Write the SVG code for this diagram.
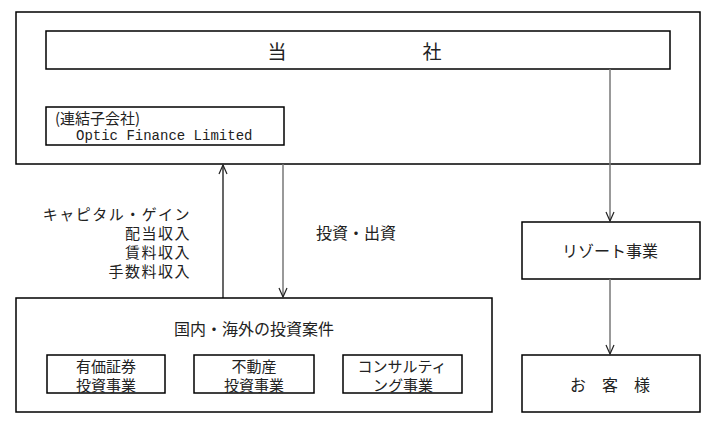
<svg xmlns="http://www.w3.org/2000/svg" width="715" height="427" viewBox="0 0 715 427">
<defs>
<style>
.box{fill:none;stroke:#000;stroke-width:1.5}
.ln{fill:none;stroke:#000;stroke-width:1.2}
.gl{fill:none;stroke:#777;stroke-width:1.5}
text{font-family:"Noto Sans CJK JP","Liberation Sans",sans-serif;font-size:16px;fill:#222;dominant-baseline:central}
.mono{font-family:"Liberation Mono","Noto Sans CJK JP",monospace;font-size:14px}
.big{font-size:19px}
.sm{font-size:15px}
.lbl{font-size:15px;letter-spacing:1.5px}
</style>
<marker id="ah" markerWidth="12" markerHeight="12" refX="10" refY="5" orient="auto" markerUnits="userSpaceOnUse" viewBox="0 0 12 10">
<path d="M1,1 L10,5 L1,9" fill="none" stroke="#222" stroke-width="1.2"/>
</marker>
</defs>
<rect width="715" height="427" fill="#fff"/>

<g id="group-company">
<rect class="box" x="16" y="12" width="684" height="152"/>
</g>
<g id="company">
<rect class="box" x="46" y="31" width="624" height="38"/>
<text class="big" x="277" y="50" text-anchor="middle">当</text>
<text class="big" x="432" y="50" text-anchor="middle">社</text>
</g>
<g id="subsidiary">
<rect class="box" x="46" y="107" width="238" height="38"/>
<text class="sm" x="55" y="117">(連結子会社)</text>
<text class="mono" x="76" y="136">Optic Finance Limited</text>
</g>
<g id="investments">
<rect class="box" x="16" y="298" width="476" height="114"/>
<text x="254" y="328" text-anchor="middle">国内・海外の投資案件</text>
</g>
<g id="securities">
<rect class="box" x="47" y="355" width="118" height="38"/>
<text class="sm" x="106" y="365" text-anchor="middle">有価証券</text>
<text class="sm" x="106" y="384" text-anchor="middle">投資事業</text>
</g>
<g id="realestate">
<rect class="box" x="194" y="355" width="120" height="38"/>
<text class="sm" x="254" y="365" text-anchor="middle">不動産</text>
<text class="sm" x="254" y="384" text-anchor="middle">投資事業</text>
</g>
<g id="consulting">
<rect class="box" x="343" y="355" width="119" height="38"/>
<text class="sm" x="402" y="365" text-anchor="middle">コンサルティ</text>
<text class="sm" x="403" y="384" text-anchor="middle">ング事業</text>
</g>
<g id="resort">
<rect class="box" x="522" y="222" width="178" height="57"/>
<text x="610" y="250" text-anchor="middle">リゾート事業</text>
</g>
<g id="customers">
<rect class="box" x="522" y="355" width="178" height="57"/>
<text x="610" y="384" text-anchor="middle">お　客　様</text>
</g>

<g id="connectors">
<line class="ln" x1="223" y1="298" x2="223" y2="165" marker-end="url(#ah)"/>
<line class="gl" x1="283" y1="164" x2="283" y2="297" marker-end="url(#ah)"/>
<line class="gl" x1="610" y1="69" x2="610" y2="221" marker-end="url(#ah)"/>
<line class="gl" x1="610" y1="279" x2="610" y2="354" marker-end="url(#ah)"/>
<text class="lbl" x="191" y="213" text-anchor="end">キャピタル・ゲイン</text>
<text class="lbl" x="191" y="232" text-anchor="end">配当収入</text>
<text class="lbl" x="191" y="251" text-anchor="end">賃料収入</text>
<text class="lbl" x="191" y="270" text-anchor="end">手数料収入</text>
<text x="316" y="232">投資・出資</text>
</g>
</svg>
